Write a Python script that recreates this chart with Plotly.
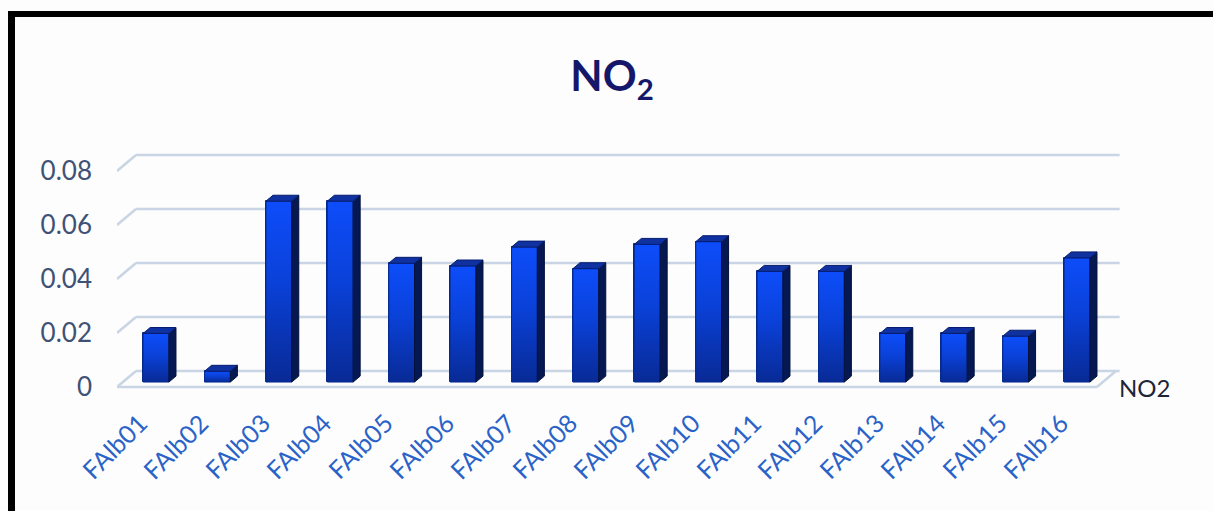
import plotly.graph_objects as go

# --- data -------------------------------------------------------------
sites = ["FAlb01", "FAlb02", "FAlb03", "FAlb04", "FAlb05", "FAlb06", "FAlb07", "FAlb08",
         "FAlb09", "FAlb10", "FAlb11", "FAlb12", "FAlb13", "FAlb14", "FAlb15", "FAlb16"]
no2 = [0.018, 0.004, 0.067, 0.067, 0.044, 0.043, 0.050, 0.042,
       0.051, 0.052, 0.041, 0.041, 0.018, 0.018, 0.017, 0.046]
y_ticks = [0, 0.02, 0.04, 0.06, 0.08]
y_tick_text = ["0", "0.02", "0.04", "0.06", "0.08"]
series_name = "NO2"

# --- layout geometry (pixels) ----------------------------------------
W, H = 1213, 511
ML, MR, MT, MB = 117, 88, 140, 111
PW, PH = W - ML - MR, H - MT - MB
X0 = -0.52                      # left end of the floor front edge
PX_PER_X = 61.4
PX_PER_Y = 2700.0
Y_BOTTOM_PX = 13                # distance of plot bottom below zero line
x_range = [X0, X0 + PW / PX_PER_X]
y_range = [-Y_BOTTOM_PX / PX_PER_Y, (PH - Y_BOTTOM_PX) / PX_PER_Y]

# oblique depth vector of the 3-D box (data units)
DX = 19 / PX_PER_X
DY = 16 / PX_PER_Y
FLOOR_END = 15.44               # right end of the floor front edge
WALL_END = 15.81                # right end of the back-wall gridlines

BAR_DEPTH0 = 0.31               # bars stand this far back on the floor
BAR_SIDE = 0.37                 # visible depth of each bar
BAR_W = 0.42

grid_color = "#c9d5e4"

fig = go.Figure()


def grid_segment(x0, y0, x1, y1):
    fig.add_shape(type="line", xref="x", yref="y", x0=x0, y0=y0, x1=x1, y1=y1,
                  line=dict(color=grid_color, width=2.5), layer="below")


# back wall gridlines with their oblique stubs on the left
for t in y_ticks:
    grid_segment(X0, t, X0 + DX, t + DY)
    grid_segment(X0 + DX, t + DY, WALL_END, t + DY)
# floor front edge and right-hand stub
grid_segment(X0, 0, FLOOR_END, 0)
grid_segment(FLOOR_END, 0, FLOOR_END + DX, DY)

# bar positions on the floor
base = BAR_DEPTH0 * DY
centers = [i + BAR_DEPTH0 * DX + 0.02 for i in range(len(sites))]

# front faces
fig.add_trace(go.Bar(x=centers, y=no2, base=base, width=BAR_W, name=series_name,
                     marker=dict(color="#0b44dc", line=dict(color="#062a8a", width=1)),
                     showlegend=False, hovertemplate="%{y}<extra></extra>"))

# shading on each front face: bright near the top, deep blue at the foot
for c, v in zip(centers, no2):
    xl, xr = c - BAR_W / 2, c + BAR_W / 2
    fig.add_trace(go.Scatter(
        x=[xl, xr, xr, xl, xl], y=[base, base, base + v, base + v, base],
        fill="toself", mode="lines", line=dict(color="#072c92", width=1),
        fillgradient=dict(type="vertical",
                          colorscale=[[0, "#082a95"], [0.55, "#0a41d8"], [1, "#0d4dfa"]]),
        hoverinfo="skip", showlegend=False))

# side and top faces
sx, sy, tx, ty = [], [], [], []
for c, v in zip(centers, no2):
    xl, xr = c - BAR_W / 2, c + BAR_W / 2
    ox, oy = BAR_SIDE * DX, BAR_SIDE * DY
    top = base + v
    sx += [xr, xr + ox, xr + ox, xr, xr, None]
    sy += [base, base + oy, top + oy, top, base, None]
    tx += [xl, xl + ox, xr + ox, xr, xl, None]
    ty += [top, top + oy, top + oy, top, top, None]
fig.add_trace(go.Scatter(x=sx, y=sy, fill="toself", mode="lines", fillcolor="#061852",
                         line=dict(color="#03103a", width=1), hoverinfo="skip", showlegend=False))
fig.add_trace(go.Scatter(x=tx, y=ty, fill="toself", mode="lines", fillcolor="#0f32a0",
                         line=dict(color="#061d70", width=1), hoverinfo="skip", showlegend=False))

# category labels, slanted at 45 degrees below the floor
LABEL_TOP = 1 - (405 - MT) / PH
for i, name in enumerate(sites):
    fig.add_annotation(x=i + 0.1, xref="x", y=LABEL_TOP, yref="paper", text=name,
                       showarrow=False, textangle=-45, xanchor="right", yanchor="top",
                       font=dict(family="Lato", size=25, color="#2a63c8"))

# series label at the right end of the floor
fig.add_annotation(x=WALL_END - 0.05, y=0, text=series_name, showarrow=False,
                   xanchor="left", yanchor="middle",
                   font=dict(family="Lato", size=24, color="#1c2638"))


def px_to_paper(px, py):
    return (px - ML) / PW, 1 - (py - MT) / PH


# outer frame: heavy black top and left edges
x_a, y_a = px_to_paper(8, 11)
x_b, _ = px_to_paper(W + 5, 17)
_, y_b = px_to_paper(8, 17)
fig.add_shape(type="rect", xref="paper", yref="paper", x0=x_a, x1=x_b, y0=y_a, y1=y_b,
              fillcolor="black", line_width=0, layer="above")
x_c, _ = px_to_paper(15, 0)
_, y_c = px_to_paper(0, H + 5)
fig.add_shape(type="rect", xref="paper", yref="paper", x0=x_a, x1=x_c, y0=y_c, y1=y_a,
              fillcolor="black", line_width=0, layer="above")

fig.update_layout(
    width=W, height=H,
    margin=dict(l=ML, r=MR, t=MT, b=MB),
    paper_bgcolor="#fdfdfd", plot_bgcolor="rgba(0,0,0,0)",
    title=dict(text="<b>NO<sub>2</sub></b>", x=612 / W, xanchor="center",
               y=1 - 62 / H, yanchor="top",
               font=dict(family="Lato", size=42, color="#15186a")),
    bargap=0,
    xaxis=dict(range=x_range, showticklabels=False, showgrid=False, zeroline=False,
               showline=False, ticks=""),
    yaxis=dict(range=y_range, tickmode="array", tickvals=y_ticks, ticktext=y_tick_text,
               showgrid=False, zeroline=False, showline=False, ticks="",
               ticklabelstandoff=24,
               tickfont=dict(family="Lato", size=26, color="#3f5275")),
)

fig.write_html("out.html")
